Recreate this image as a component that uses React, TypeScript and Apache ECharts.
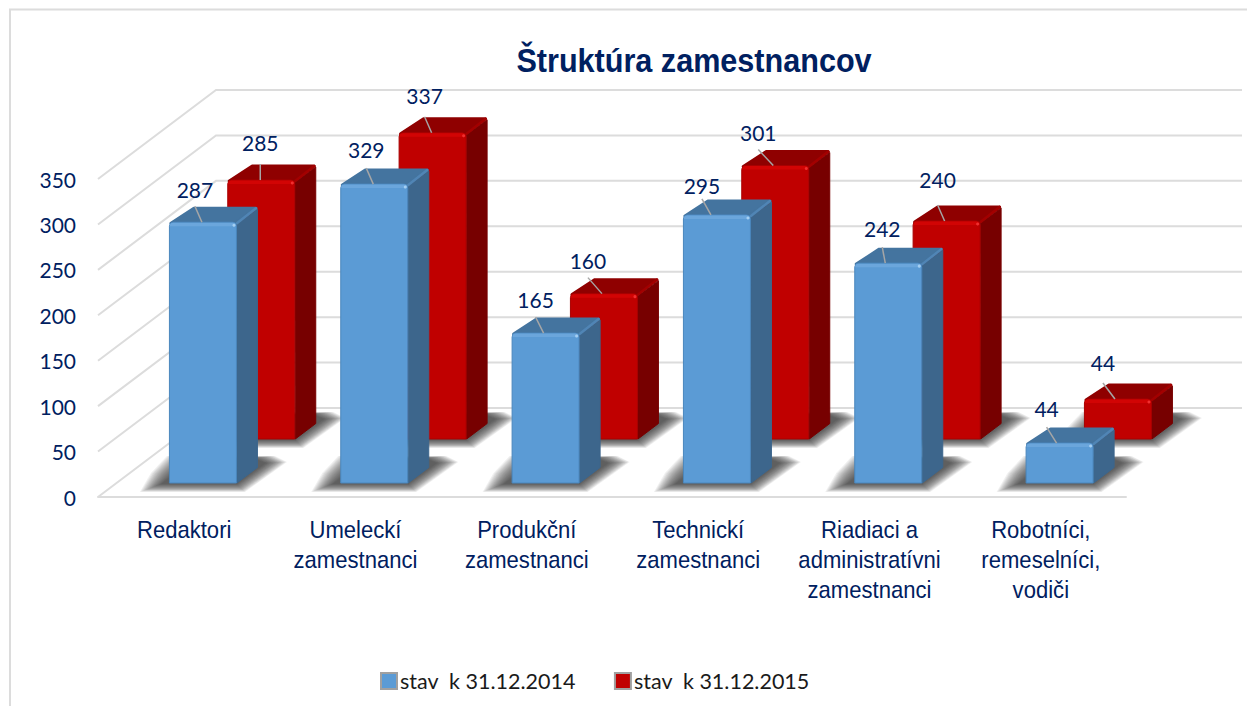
import React, { useEffect, useRef } from "react";
import * as echarts from "echarts";

const categories = [
  "Redaktori",
  "Umeleckí\nzamestnanci",
  "Produkční\nzamestnanci",
  "Technickí\nzamestnanci",
  "Riadiaci a\nadministratívni\nzamestnanci",
  "Robotníci,\nremeselníci,\nvodiči",
];
const values2014 = [287, 329, 165, 295, 242, 44];
const values2015 = [285, 337, 160, 301, 240, 44];
const gridTicks = [0, 50, 100, 150, 200, 250, 300, 350];
const name2014 = "stav  k 31.12.2014";
const name2015 = "stav  k 31.12.2015";

// per-bar label layout, from bar centre: [leader at front edge, leader at back edge, label rise]
const leaders2014 = [[-1, -8, 17], [-1, -8, 19], [-2, -10, 18], [-6, -15, 13], [-3, -6, 19], [-3, -13, 19]];
const leaders2015 = [[-1, -1, 22], [-1, -8, 21], [-2, -16, 17], [-2, -17, 17], [-2, -9, 25], [-3, -15, 21]];

const WALL_DX = 118;
const WALL_DY = -89;
const BAR_W = 68;
const DEPTH_DX = 21;
const DEPTH_DY = -16;
const NAVY = "#002060";
const LABEL_FONT = "Lato, 'Open Sans', sans-serif";
const NARROW_FONT = "'Liberation Sans', Arial, sans-serif";

type Palette = { front: string; bevel: string; edge: string; top: string; topRim: string; side: string; glint: string };
const blue: Palette = { front: "#5B9BD5", bevel: "#6BA6DC", edge: "#4A86BD", top: "#44749F", topRim: "#5085B5", side: "#3D668C", glint: "#A5CFF2" };
const red: Palette = { front: "#C00000", bevel: "#D20404", edge: "#A80000", top: "#8F0000", topRim: "#A30000", side: "#770000", glint: "#F03030" };

function floorShadow(x0: number, x1: number, yb: number) {
  const layers = [];
  const steps = 18;
  for (let k = 0; k < steps; k++) {
    const s = k * 1.25;
    layers.push({
      type: "polygon",
      shape: {
        points: [
          [x0 - 29 + s, yb + 9 - s * 0.38],
          [x0 - 16 + s * 0.4, yb + 9 - s * 0.38],
          [x1 + 8 - s * 0.4, yb + 9 - s * 0.38],
          [x1 + 50 - s, yb - 21 + s * 0.05],
          [x1 + 38 - s, yb - 27 + s * 0.1],
          [x0 - 2 + s, yb - 27 + s * 0.2],
          [x0 - 18 + s, yb - 10 + s * 0.1],
        ],
      },
      style: { fill: "rgba(45,45,45,0.07)" },
    });
  }
  return layers;
}

function barRenderer(f: number, pal: Palette, leaders: number[][]) {
  return (params: any, api: any) => {
    const i = api.value(0);
    const v = api.value(1);
    const base = api.coord([i, 0]);
    const head = api.coord([i, v]);
    const off = [WALL_DX * f, WALL_DY * f];
    const cx = base[0] + off[0] + 0.7;
    const x0 = cx - BAR_W / 2;
    const x1 = cx + BAR_W / 2;
    const yb = base[1] + off[1];
    const yt = head[1] + off[1];
    const dx = DEPTH_DX;
    const dy = DEPTH_DY;
    const [le, ls, rise] = leaders[i];
    const lsx = cx + ls;
    const lsy = yt + dy;
    return {
      type: "group",
      children: [
        ...floorShadow(x0, x1, yb),
        {
          type: "polygon",
          shape: { points: [[x1, yb], [x1 + dx - 0.5, yb + dy + 0.5], [x1 + dx - 0.5, yt + dy + 3], [x1 - 0.5, yt + 2]] },
          style: { fill: pal.side, stroke: pal.side, lineWidth: 1, lineJoin: "round" },
        },
        {
          type: "polygon",
          shape: { points: [[x0 + 2, yt + 1], [x1 - 2, yt + 1], [x1 + dx - 2, yt + dy + 2], [x0 + dx + 4, yt + dy + 2]] },
          style: { fill: pal.top, stroke: pal.top, lineWidth: 3, lineJoin: "round" },
        },
        {
          type: "polyline",
          shape: { points: [[x1, yt + 1], [x1 + dx - 2, yt + dy + 2]] },
          style: { fill: "none", stroke: pal.topRim, lineWidth: 2.5, lineCap: "round" },
        },
        {
          type: "rect",
          shape: { x: x0 + 0.5, y: yt, width: BAR_W - 1, height: yb - yt, r: [4, 4, 0, 0] },
          style: { fill: pal.front, stroke: pal.edge, lineWidth: 1 },
        },
        {
          type: "rect",
          shape: { x: x0 + 1, y: yt + 0.5, width: BAR_W - 2, height: 3.5, r: [3, 3, 0, 0] },
          style: { fill: pal.bevel },
        },
        {
          type: "circle",
          shape: { cx: x1 - 3, cy: yt + 3, r: 1.5 },
          style: { fill: pal.glint },
        },
        {
          type: "line",
          shape: { x1: lsx, y1: lsy, x2: cx + le, y2: yt },
          style: { stroke: "#A6A6A6", lineWidth: 1.5 },
        },
        {
          type: "text",
          x: lsx,
          y: lsy - rise,
          style: {
            text: String(v),
            fill: NAVY,
            font: `21px ${LABEL_FONT}`,
            align: "center",
            verticalAlign: "middle",
          },
        },
      ],
    };
  };
}

function wallRenderer(params: any, api: any) {
  const t = api.value(0);
  const y = api.coord([0, t])[1];
  const p0 = [params.coordSys.x, y];
  const p1 = [p0[0] + WALL_DX, y + WALL_DY];
  const p2 = [params.coordSys.x + params.coordSys.width + WALL_DX - 2, y + WALL_DY];
  return {
    type: "polyline",
    shape: { points: [p0, p1, p2] },
    style: { fill: "none", stroke: "#DCDCDC", lineWidth: 2 },
  };
}

function categoryLabelRenderer(params: any, api: any) {
  const i = api.value(0);
  const p = api.coord([i, 0]);
  return {
    type: "text",
    x: p[0] + 0.5,
    y: p[1] + 18,
    scaleX: 0.92,
    style: {
      text: categories[i],
      fill: NAVY,
      font: `24px ${NARROW_FONT}`,
      lineHeight: 30,
      align: "center",
      verticalAlign: "top",
    },
  };
}

export default function App() {
  const ref = useRef<HTMLDivElement>(null);
  useEffect(() => {
    const chart = echarts.init(ref.current!, null, { renderer: "svg" });
    chart.setOption({
      animation: false,
      backgroundColor: "#ffffff",
      graphic: [
        {
          type: "polyline",
          silent: true,
          shape: { points: [[10, 706], [10, 9.5], [1247, 9.5]] },
          style: { fill: "none", stroke: "#DCDCDC", lineWidth: 2 },
        },
        {
          type: "text",
          silent: true,
          x: 694,
          y: 60,
          scaleX: 0.9,
          style: {
            text: "Štruktúra zamestnancov",
            fill: NAVY,
            font: `bold 34px ${NARROW_FONT}`,
            align: "center",
            verticalAlign: "middle",
          },
        },
      ],
      legend: {
        left: 375,
        top: 665,
        itemWidth: 16,
        itemHeight: 16,
        itemGap: 38,
        icon: "rect",
        data: [
          { name: name2014, itemStyle: { color: "#5B9BD5", borderColor: "#A0A0A0", borderWidth: 2 } },
          { name: name2015, itemStyle: { color: "#C00000", borderColor: "#A0A0A0", borderWidth: 2 } },
        ],
        selectedMode: false,
        textStyle: { color: "#1a1a1a", fontFamily: LABEL_FONT, fontSize: 21.5, padding: [0, 0, 0, -2] },
      },
      grid: { left: 98, right: 121, top: 179, height: 318 },
      xAxis: {
        type: "category",
        data: categories,
        axisTick: { show: false },
        axisLine: { lineStyle: { color: "#DCDCDC", width: 2 } },
        axisLabel: { show: false },
      },
      yAxis: {
        type: "value",
        min: 0,
        max: 350,
        interval: 50,
        axisLine: { show: false },
        axisTick: { show: false },
        splitLine: { show: false },
        axisLabel: { color: NAVY, fontFamily: LABEL_FONT, fontSize: 21, margin: 22, padding: [0, 0, 3, 0] },
      },
      series: [
        {
          type: "custom",
          name: "grid",
          silent: true,
          clip: false,
          renderItem: wallRenderer,
          data: gridTicks.map((t) => [t]),
          encode: { y: 0 },
          z: 1,
        },
        {
          type: "custom",
          name: "categories",
          silent: true,
          clip: false,
          renderItem: categoryLabelRenderer,
          data: categories.map((_, i) => [i]),
          encode: { x: 0 },
          z: 1,
        },
        {
          type: "custom",
          name: name2015,
          clip: false,
          renderItem: barRenderer(58 / 89, red, leaders2015),
          data: values2015.map((v, i) => [i, v]),
          encode: { x: 0, y: 1 },
          itemStyle: { color: "#C00000" },
          z: 2,
        },
        {
          type: "custom",
          name: name2014,
          clip: false,
          renderItem: barRenderer(14 / 89, blue, leaders2014),
          data: values2014.map((v, i) => [i, v]),
          encode: { x: 0, y: 1 },
          itemStyle: { color: "#5B9BD5" },
          z: 3,
        },
      ],
    });
    return () => chart.dispose();
  }, []);
  return <div ref={ref} style={{ position: "absolute", left: 0, top: 0, width: 1247, height: 706 }} />;
}
